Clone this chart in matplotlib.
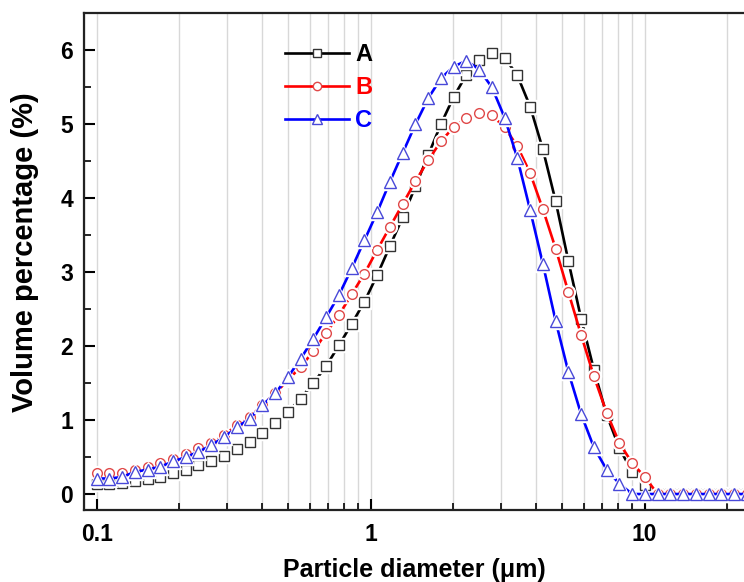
import matplotlib
matplotlib.use('Agg')
import matplotlib.pyplot as plt
from matplotlib.lines import Line2D
from matplotlib.ticker import MultipleLocator, NullFormatter, FuncFormatter, LogLocator

plt.rcParams['font.family'] = ['Liberation Sans', 'DejaVu Sans']
plt.rcParams['font.weight'] = 'bold'

# particle diameter (um) of each size bin
diameter = [0.1, 0.1113, 0.1239, 0.1378, 0.1534, 0.1707, 0.19, 0.2114, 0.2353, 0.2619,
            0.2919, 0.3249, 0.3617, 0.4025, 0.448, 0.4987, 0.5553, 0.618, 0.6878, 0.7659,
            0.8523, 0.9487, 1.056, 1.175, 1.308, 1.457, 1.621, 1.804, 2.008, 2.236,
            2.488, 2.77, 3.083, 3.431, 3.819, 4.252, 4.732, 5.267, 5.863, 6.528,
            7.264, 8.085, 9.0, 10.02, 11.15, 12.42, 13.82, 15.38, 17.12, 19.05,
            21.21, 23.61]

vol_a = [0.13, 0.14, 0.15, 0.17, 0.20, 0.23, 0.28, 0.32, 0.39, 0.45,
         0.52, 0.61, 0.71, 0.82, 0.96, 1.11, 1.29, 1.50, 1.73, 2.01,
         2.30, 2.60, 2.96, 3.35, 3.74, 4.16, 4.58, 5.00, 5.37, 5.67,
         5.87, 5.96, 5.90, 5.66, 5.24, 4.66, 3.96, 3.15, 2.37, 1.68,
         1.07, 0.62, 0.30, 0.12, 0, 0, 0, 0, 0, 0,
         0, 0]

vol_b = [0.28, 0.28, 0.29, 0.33, 0.37, 0.42, 0.47, 0.54, 0.62, 0.69,
         0.80, 0.93, 1.04, 1.20, 1.36, 1.54, 1.72, 1.93, 2.18, 2.42,
         2.70, 2.98, 3.30, 3.61, 3.92, 4.23, 4.51, 4.77, 4.96, 5.09,
         5.15, 5.12, 4.96, 4.70, 4.34, 3.85, 3.32, 2.73, 2.15, 1.59,
         1.10, 0.69, 0.42, 0.23, 0, 0, 0, 0, 0, 0,
         0, 0]

vol_c = [0.21, 0.21, 0.23, 0.30, 0.33, 0.37, 0.44, 0.50, 0.57, 0.66,
         0.77, 0.90, 1.02, 1.20, 1.36, 1.58, 1.83, 2.10, 2.39, 2.69,
         3.05, 3.43, 3.81, 4.22, 4.61, 5.00, 5.35, 5.62, 5.78, 5.86,
         5.74, 5.50, 5.09, 4.54, 3.84, 3.11, 2.34, 1.65, 1.08, 0.63,
         0.33, 0.14, 0, 0, 0, 0, 0, 0, 0, 0,
         0, 0]

labels = ['A', 'B', 'C']
line_colors = ['black', '#ff0000', '#0000ff']
marker_colors = ['#333333', '#e04848', '#4848d8']
markers = ['s', 'o', '^']
sizes = [6.5, 7, 8]

fig = plt.figure(figsize=(7.44, 5.82), dpi=100)
ax = fig.add_axes([0.1129, 0.1237, 0.8871, 0.8534])
ax.set_xscale('log')
ax.set_xlim(0.0899, 23.04)
ax.set_ylim(-0.216, 6.5)

handles = []
for i, vals in enumerate([vol_a, vol_b, vol_c]):
    z = 3 + i
    ax.plot(diameter, vals, '-', color=line_colors[i], lw=1.9, zorder=z)
    # white halo so the line stops short of each symbol
    ax.plot(diameter, vals, ls='none', marker=markers[i], ms=sizes[i] + 3,
            mfc='white', mec='white', zorder=z + 0.1)
    ax.plot(diameter, vals, ls='none', marker=markers[i], ms=sizes[i],
            mfc='white', mec=marker_colors[i], mew=1.0, zorder=z + 0.2)
    handles.append(Line2D([], [], color=line_colors[i], lw=1.9, marker=markers[i],
                          ms=sizes[i] - 1, mfc='white', mec=marker_colors[i],
                          mew=1.0, label=labels[i]))

leg = ax.legend(handles=handles, loc='upper left', bbox_to_anchor=(0.305, 0.94),
                frameon=False, numpoints=1, handlelength=2.7, handletextpad=0.25,
                labelspacing=0.42, borderpad=0, borderaxespad=0,
                prop={'size': 17, 'weight': 'bold'}, labelcolor='linecolor')

ax.xaxis.set_major_locator(LogLocator(base=10))
ax.xaxis.set_minor_locator(LogLocator(base=10, subs=range(2, 10)))
ax.xaxis.set_major_formatter(FuncFormatter(lambda v, _: f'{v:g}'))
ax.xaxis.set_minor_formatter(NullFormatter())
ax.yaxis.set_major_locator(MultipleLocator(1))
ax.yaxis.set_minor_locator(MultipleLocator(0.5))

ax.grid(True, which='both', axis='x', color='#d8d8d8', lw=1.0)
ax.set_axisbelow(True)

ax.tick_params(which='major', direction='in', length=8, width=1.5, labelsize=16.5, pad=8)
ax.tick_params(which='minor', direction='in', length=5, width=1.2)
ax.tick_params(axis='x', which='major', pad=9)
for lab in ax.get_xticklabels() + ax.get_yticklabels():
    lab.set_fontweight('bold')

for side in ['left', 'bottom', 'top']:
    ax.spines[side].set_linewidth(1.6)
    ax.spines[side].set_color('#222222')
ax.spines['right'].set_visible(False)

ax.set_xlabel('Particle diameter (μm)', fontsize=18, fontweight='bold', labelpad=9)
ax.set_ylabel('Volume percentage (%)', fontsize=21, fontweight='bold')
ax.yaxis.set_label_coords(-0.068, 0.52)

fig.savefig('out.png', dpi=100)
